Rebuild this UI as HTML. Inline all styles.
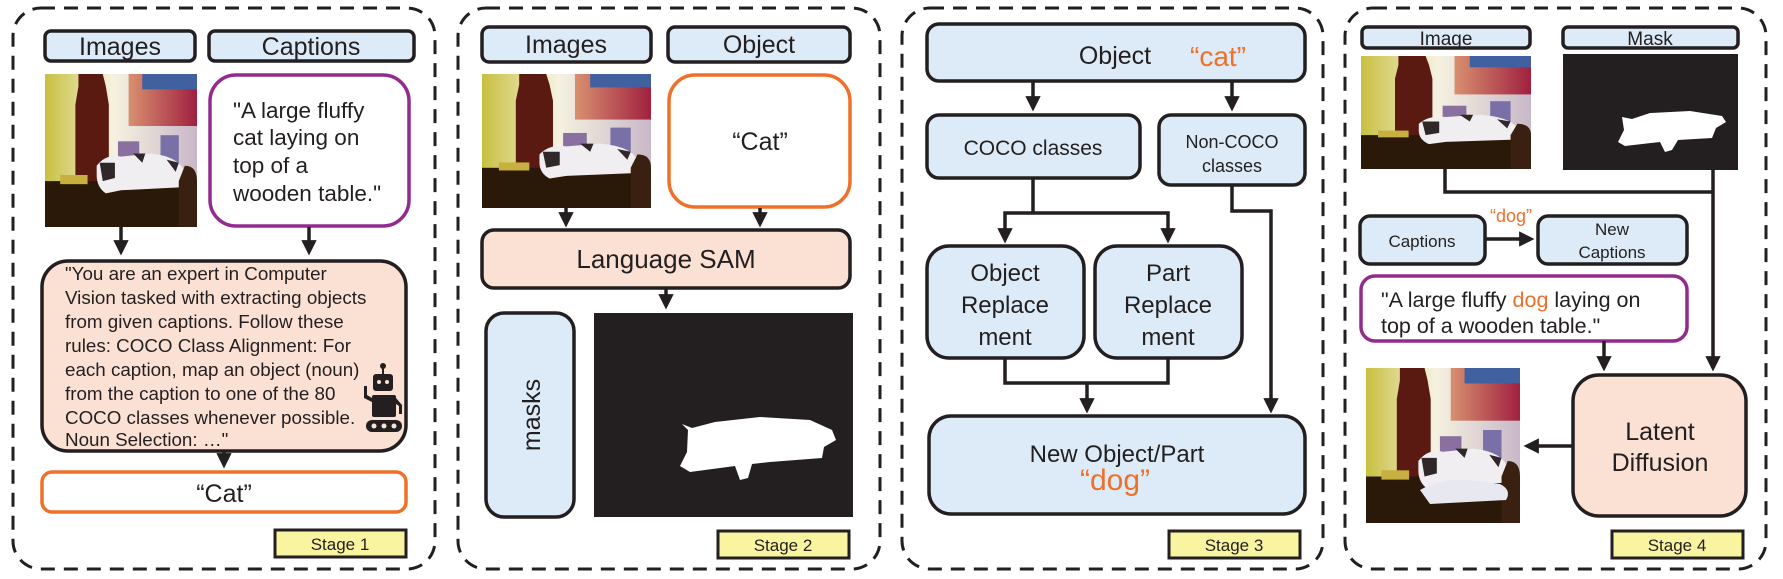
<!DOCTYPE html>
<html><head><meta charset="utf-8"><style>
html,body{margin:0;padding:0;background:#fff;}
svg{display:block;font-family:"Liberation Sans",sans-serif;}
</style></head><body>
<svg width="1783" height="579" viewBox="0 0 1783 579" xmlns="http://www.w3.org/2000/svg">
<defs>
<marker id="ah" markerWidth="4.4" markerHeight="4.4" refX="3.4" refY="2.2" orient="auto" markerUnits="strokeWidth"><path d="M0,0 L4.4,2.2 L0,4.4 z" fill="#231f20"/></marker>
<linearGradient id="bg" x1="0" y1="0" x2="1" y2="0"><stop offset="0" stop-color="#c8c040"/><stop offset="0.45" stop-color="#f6f2e0"/><stop offset="1" stop-color="#c8b8c8"/></linearGradient>
<linearGradient id="pt" x1="0" y1="0" x2="1" y2="0"><stop offset="0" stop-color="#d89070"/><stop offset="1" stop-color="#a02040"/></linearGradient>
<symbol id="photo" viewBox="0 0 100 100" preserveAspectRatio="none">
<rect width="100" height="100" fill="url(#bg)"/>
<rect x="55" y="0" width="45" height="34" fill="url(#pt)"/>
<rect x="64" y="0" width="36" height="10" fill="#4060a0"/>
<rect x="48" y="44" width="14" height="14" fill="#8a70a0"/>
<rect x="76" y="40" width="12" height="18" fill="#7a70a8"/>
<path d="M22,0 L38,0 L40,8 L42,20 L42,72 L20,72 L20,20 L22,8 z" fill="#5a1a12"/>
<rect x="0" y="70" width="100" height="30" fill="#2a1808"/>
<rect x="10" y="66" width="18" height="6" fill="#c8b040"/>
<path d="M34,60 Q40,52 50,54 L70,52 Q88,54 92,64 L90,74 L50,76 L40,78 Q34,74 34,66 z" fill="#f0eef0"/>
<path d="M36,58 L46,58 L46,68 L38,70 z M58,52 L66,52 L64,58 z M80,56 L88,58 L86,64 z" fill="#302828"/>
<path d="M92,60 Q100,60 100,70 L100,100 L88,100 L88,70 z" fill="#3a2010"/>
</symbol>
</defs>
<g fill="none" stroke="#231f20" stroke-width="3" stroke-dasharray="14,9">
<rect x="13" y="8" width="422" height="561" rx="28"/>
<rect x="458" y="8" width="422" height="561" rx="28"/>
<rect x="902" y="8" width="421" height="561" rx="28"/>
<rect x="1345" y="8" width="421" height="561" rx="28"/>
</g>

<!-- STAGE 1 -->
<g stroke="#231f20" stroke-width="3.5">
<rect x="45" y="31" width="150" height="30" rx="6" fill="#dcebf7"/>
<rect x="209" y="31" width="205" height="30" rx="6" fill="#dcebf7"/>
</g>
<text x="120" y="55" font-size="25" text-anchor="middle" fill="#231f20">Images</text>
<text x="311" y="55" font-size="25" text-anchor="middle" fill="#231f20">Captions</text>
<use href="#photo" x="45" y="74" width="152" height="153"/>
<rect x="210" y="75" width="199" height="151" rx="26" fill="#fff" stroke="#932b8f" stroke-width="3.5"/>
<g font-size="22.5" fill="#231f20"><text x="233" y="118">"A large fluffy</text><text x="233" y="145">cat laying on</text><text x="233" y="173">top of a</text><text x="233" y="201">wooden table."</text></g>
<g stroke="#231f20" stroke-width="3.5" marker-end="url(#ah)"><line x1="121" y1="227" x2="121" y2="252"/><line x1="309" y1="227" x2="309" y2="252"/><line x1="224" y1="451" x2="224" y2="465"/></g>
<rect x="42" y="261" width="364" height="190" rx="26" fill="#fbe1d4" stroke="#231f20" stroke-width="3.5"/>
<g font-size="18.8" fill="#231f20">
<text x="65" y="280">"You are an expert in Computer</text>
<text x="65" y="304">Vision tasked with extracting objects</text>
<text x="65" y="328">from given captions. Follow these</text>
<text x="65" y="352">rules: COCO Class Alignment: For</text>
<text x="65" y="376">each caption, map an object (noun)</text>
<text x="65" y="400">from the caption to one of the 80</text>
<text x="65" y="424">COCO classes whenever possible.</text>
<text x="65" y="446">Noun Selection: …"</text>
</g>
<g fill="#231f20">
<circle cx="383" cy="366" r="3"/><rect x="382" y="366" width="2" height="8"/>
<rect x="373" y="374" width="20" height="17" rx="3"/>
<rect x="372" y="395" width="24" height="22" rx="2"/>
<path d="M364,386 L364,398 L372,402 L372,398 L367,395 L367,386 z"/>
<path d="M396,398 L402,405 L402,414 L399,414 L399,406 L396,404 z"/>
<rect x="366" y="420" width="36" height="12" rx="6"/>
</g>
<g fill="#fbe1d4"><circle cx="379" cy="382" r="2"/><circle cx="387" cy="382" r="2"/><circle cx="374" cy="426" r="2.5"/><circle cx="384" cy="426" r="2.5"/><circle cx="394" cy="426" r="2.5"/></g>
<rect x="42" y="472" width="364" height="40" rx="10" fill="#fff" stroke="#ee7029" stroke-width="3.5"/>
<text x="224" y="502" font-size="25" text-anchor="middle" fill="#231f20">“Cat”</text>
<rect x="275" y="530" width="131" height="27" fill="#f8f4a0" stroke="#231f20" stroke-width="3"/>
<text x="340" y="550" font-size="17" text-anchor="middle" fill="#231f20">Stage 1</text>

<!-- STAGE 2 -->
<g stroke="#231f20" stroke-width="3.5">
<rect x="482" y="27" width="169" height="35" rx="7" fill="#dcebf7"/>
<rect x="668" y="27" width="182" height="35" rx="7" fill="#dcebf7"/>
</g>
<text x="566" y="53" font-size="25" text-anchor="middle" fill="#231f20">Images</text>
<text x="759" y="53" font-size="25" text-anchor="middle" fill="#231f20">Object</text>
<use href="#photo" x="482" y="74" width="169" height="134"/>
<rect x="669" y="75" width="181" height="132" rx="26" fill="#fff" stroke="#ee7029" stroke-width="3.5"/>
<text x="760" y="150" font-size="25" text-anchor="middle" fill="#231f20">“Cat”</text>
<g stroke="#231f20" stroke-width="3.5" marker-end="url(#ah)"><line x1="566" y1="208" x2="566" y2="224"/><line x1="760" y1="208" x2="760" y2="224"/><line x1="666" y1="288" x2="666" y2="306"/></g>
<rect x="482" y="230" width="368" height="58" rx="12" fill="#fbe1d4" stroke="#231f20" stroke-width="3.5"/>
<text x="666" y="268" font-size="26" text-anchor="middle" fill="#231f20">Language SAM</text>
<rect x="486" y="313" width="88" height="204" rx="18" fill="#dcebf7" stroke="#231f20" stroke-width="3.5"/>
<text transform="translate(540,415) rotate(-90)" font-size="25" text-anchor="middle" fill="#231f20">masks</text>
<rect x="594" y="313" width="259" height="204" fill="#231f20"/>
<path d="M682,424 L692,428 L715,422 L760,417 L810,420 L832,430 L836,440 L824,447 L822,458 L770,462 L752,464 L748,478 L740,480 L735,466 L690,472 L680,466 L687,452 L688,430 z" fill="#fff"/>
<rect x="718" y="531" width="131" height="27" fill="#f8f4a0" stroke="#231f20" stroke-width="3"/>
<text x="783" y="551" font-size="17" text-anchor="middle" fill="#231f20">Stage 2</text>

<!-- STAGE 3 -->
<g stroke="#231f20" stroke-width="3.5" fill="#dcebf7">
<rect x="927" y="24" width="378" height="57" rx="12"/>
<rect x="927" y="115" width="213" height="63" rx="12"/>
<rect x="1159" y="115" width="146" height="70" rx="12"/>
<rect x="927" y="246" width="157" height="112" rx="22"/>
<rect x="1095" y="246" width="147" height="112" rx="22"/>
<rect x="929" y="416" width="376" height="98" rx="22"/>
</g>
<text x="1115" y="64" font-size="25" text-anchor="middle" fill="#231f20">Object</text>
<text x="1218" y="66" font-size="28" text-anchor="middle" fill="#ee7029">“cat”</text>
<text x="1033" y="155" font-size="21" text-anchor="middle" fill="#231f20">COCO classes</text>
<text x="1232" y="148" font-size="18" text-anchor="middle" fill="#231f20">Non-COCO</text>
<text x="1232" y="172" font-size="18" text-anchor="middle" fill="#231f20">classes</text>
<g font-size="24" text-anchor="middle" fill="#231f20">
<text x="1005" y="281">Object</text><text x="1005" y="313">Replace</text><text x="1005" y="345">ment</text>
<text x="1168" y="281">Part</text><text x="1168" y="313">Replace</text><text x="1168" y="345">ment</text>
<text x="1117" y="462">New Object/Part</text>
</g>
<text x="1115" y="490" font-size="30" text-anchor="middle" fill="#ee7029">“dog”</text>
<g stroke="#231f20" stroke-width="3.5" fill="none">
<line x1="1033" y1="81" x2="1033" y2="108" marker-end="url(#ah)"/>
<line x1="1232" y1="81" x2="1232" y2="108" marker-end="url(#ah)"/>
<line x1="1033" y1="178" x2="1033" y2="213"/>
<path d="M1005,240 L1005,213 L1168,213 L1168,240" />
<line x1="1005" y1="228" x2="1005" y2="240" marker-end="url(#ah)"/>
<line x1="1168" y1="228" x2="1168" y2="240" marker-end="url(#ah)"/>
<path d="M1005,358 L1005,383 L1168,383 L1168,358"/>
<line x1="1087" y1="383" x2="1087" y2="410" marker-end="url(#ah)"/>
<path d="M1232,185 L1232,211 L1271,211 L1271,410" marker-end="url(#ah)"/>
</g>
<rect x="1169" y="531" width="131" height="27" fill="#f8f4a0" stroke="#231f20" stroke-width="3"/>
<text x="1234" y="551" font-size="17" text-anchor="middle" fill="#231f20">Stage 3</text>

<!-- STAGE 4 -->
<g stroke="#231f20" stroke-width="3.5" fill="#dcebf7">
<rect x="1362" y="27" width="168" height="21" rx="5"/>
<rect x="1563" y="27" width="175" height="21" rx="5"/>
<rect x="1360" y="216" width="125" height="48" rx="10"/>
<rect x="1538" y="216" width="149" height="48" rx="10"/>
</g>
<text x="1446" y="45" font-size="19" text-anchor="middle" fill="#231f20">Image</text>
<text x="1650" y="45" font-size="19" text-anchor="middle" fill="#231f20">Mask</text>
<use href="#photo" x="1361" y="56" width="170" height="113"/>
<rect x="1563" y="54" width="175" height="116" fill="#231f20"/>
<path d="M1622,117 L1632,119 L1650,113 L1690,111 L1722,116 L1726,122 L1716,128 L1712,138 L1678,140 L1672,150 L1665,152 L1660,142 L1625,146 L1618,142 L1624,130 z" fill="#fff"/>
<text x="1422" y="247" font-size="17" text-anchor="middle" fill="#231f20">Captions</text>
<text x="1612" y="235" font-size="17" text-anchor="middle" fill="#231f20">New</text>
<text x="1612" y="258" font-size="17" text-anchor="middle" fill="#231f20">Captions</text>
<text x="1511" y="222" font-size="18" text-anchor="middle" fill="#ee7029">“dog”</text>
<rect x="1361" y="276" width="326" height="65" rx="14" fill="#fff" stroke="#932b8f" stroke-width="3.5"/>
<text x="1381" y="307" font-size="21.5" fill="#231f20">"A large fluffy <tspan fill="#ee7029">dog</tspan> laying on</text>
<text x="1381" y="333" font-size="21.5" fill="#231f20">top of a wooden table."</text>
<rect x="1573" y="375" width="173" height="141" rx="26" fill="#fbe1d4" stroke="#231f20" stroke-width="3.5"/>
<text x="1660" y="440" font-size="25" text-anchor="middle" fill="#231f20">Latent</text>
<text x="1660" y="471" font-size="25" text-anchor="middle" fill="#231f20">Diffusion</text>
<use href="#photo" x="1366" y="368" width="154" height="155"/>
<path d="M1420,490 Q1440,478 1470,480 L1500,484 Q1512,490 1506,500 L1430,504 Z" fill="#e8e8f0"/>
<g stroke="#231f20" stroke-width="3.5" fill="none">
<path d="M1445,169 L1445,192 L1713,192"/>
<line x1="1713" y1="170" x2="1713" y2="368" marker-end="url(#ah)"/>
<line x1="1485" y1="239" x2="1531" y2="239" marker-end="url(#ah)"/>
<line x1="1604" y1="341" x2="1604" y2="368" marker-end="url(#ah)"/>
<line x1="1573" y1="446" x2="1527" y2="446" marker-end="url(#ah)"/>
</g>
<rect x="1612" y="531" width="131" height="27" fill="#f8f4a0" stroke="#231f20" stroke-width="3"/>
<text x="1677" y="551" font-size="17" text-anchor="middle" fill="#231f20">Stage 4</text>
</svg>
</body></html>
